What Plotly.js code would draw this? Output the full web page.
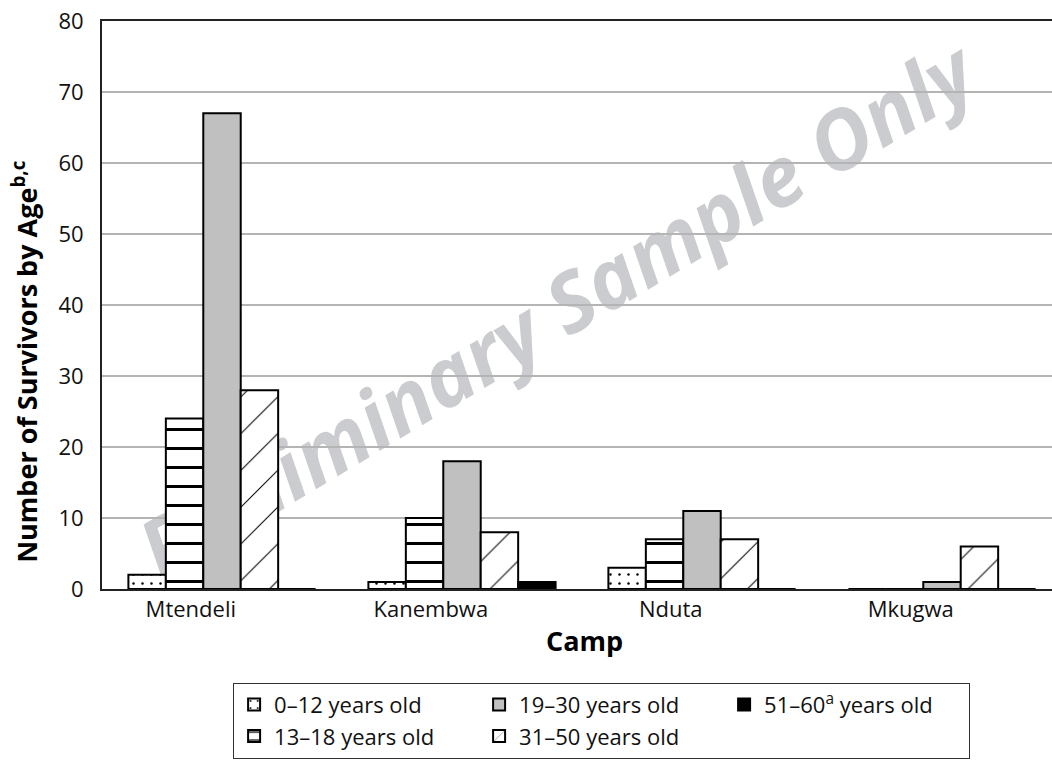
<!DOCTYPE html>
<html><head><meta charset="utf-8">
<script src="https://cdn.plot.ly/plotly-3.0.1.min.js"></script>
<style>html,body{margin:0;padding:0;background:#fff}</style>
</head><body><div id="chart" style="width:1052px;height:772px"></div>
<script>
const camps = ['Mtendeli', 'Kanembwa', 'Nduta', 'Mkugwa'];
const seriesNames = ['0–12 years old', '13–18 years old', '19–30 years old', '31–50 years old', '51–60<sup>a</sup> years old'];
const age0to12 = [2, 1, 3, 0];
const age13to18 = [24, 10, 7, 0];
const age19to30 = [67, 18, 11, 1];
const age31to50 = [28, 8, 7, 6];
const age51to60 = [0, 1, 0, 0];
const yTickVals = [0, 10, 20, 30, 40, 50, 60, 70, 80];
const yTitle = 'Number of Survivors by Age<sup>b,c</sup>';
const xTitle = 'Camp';
const watermark = 'Preliminary Sample Only';

const seriesValues = [age0to12, age13to18, age19to30, age31to50, age51to60];
const legendRanks = [1, 4, 2, 5, 3];
const patterns = [
  {shape: '.', size: 9, solidity: 0.06, fgcolor: '#000', bgcolor: '#fff', fillmode: 'replace'},
  {shape: '-', size: 19, solidity: 0.16, fgcolor: '#000', bgcolor: '#fff', fillmode: 'replace'},
  {shape: '', fgcolor: '#000', bgcolor: '#c0c0c0'},
  {shape: '/', size: 26, solidity: 0.04, fgcolor: '#000', bgcolor: '#fff', fillmode: 'replace'},
  {shape: ''}
];
const fills = ['#fff', '#fff', '#c0c0c0', '#fff', '#000'];
const xIdx = camps.map((c, i) => i);
const labelOffset = -0.13;

const traces = seriesNames.map((name, s) => ({
  type: 'bar',
  name: name,
  x: xIdx,
  y: seriesValues[s],
  legendrank: legendRanks[s],
  marker: {
    color: fills[s],
    line: {color: '#000', width: 2},
    pattern: patterns[s]
  },
  hoverinfo: 'x+y+name'
}));

const font = 'Open Sans, Noto Sans, Liberation Sans, sans-serif';
const layout = {
  width: 1052, height: 772,
  margin: {l: 102, r: 0, t: 21, b: 183},
  paper_bgcolor: '#fff', plot_bgcolor: '#fff',
  font: {family: font, size: 22, color: '#111'},
  barmode: 'group', bargap: 0.22, bargroupgap: 0,
  showlegend: true,
  legend: {
    orientation: 'h', x: 0.138, xanchor: 'left', y: -0.165, yanchor: 'top',
    entrywidth: 200, entrywidthmode: 'pixels',
    bordercolor: '#333', borderwidth: 1, bgcolor: '#fff',
    font: {family: font, size: 22, color: '#111'},
    traceorder: 'normal'
  },
  xaxis: {
    range: [-0.5, -0.5 + 950 / 240],
    tickmode: 'array',
    tickvals: xIdx.map(i => i + labelOffset),
    ticktext: camps,
    ticks: '', showgrid: false, zeroline: false,
    showline: true, linecolor: '#222', linewidth: 2, mirror: true,
    tickfont: {family: font, size: 22, color: '#111'},
    fixedrange: true
  },
  yaxis: {
    range: [0, 80], tickmode: 'array', tickvals: yTickVals,
    ticks: '', ticklabelstandoff: 12,
    showgrid: true, gridcolor: '#b4b4b4', gridwidth: 1.5,
    zeroline: false, showline: true, linecolor: '#222', linewidth: 2,
    tickfont: {family: font, size: 22, color: '#111'},
    fixedrange: true
  },
  annotations: [
    {
      text: '<b>' + yTitle + '</b>', textangle: -90,
      xref: 'paper', yref: 'paper', x: -0.081, y: 0.40,
      xanchor: 'center', yanchor: 'middle', showarrow: false,
      font: {family: font, size: 27, color: '#000'}
    },
    {
      text: '<b>' + xTitle + '</b>',
      xref: 'paper', yref: 'paper', x: 0.508, y: -0.09,
      xanchor: 'center', yanchor: 'middle', showarrow: false,
      font: {family: font, size: 27, color: '#000'}
    }
  ],
  shapes: [{
    type: 'rect', xref: 'paper', yref: 'paper', layer: 'below',
    x0: 0.1, x1: 0.86, y0: 0.18, y1: 0.79,
    line: {width: 0}, fillcolor: 'rgba(0,0,0,0)',
    label: {
      text: '<b><i>' + watermark + '</i></b>',
      textangle: -31, textposition: 'middle center',
      font: {family: font, size: 82, color: '#cbcccf', weight: 800, style: 'italic'}
    }
  }]
};

Plotly.newPlot('chart', traces, layout, {displayModeBar: false});
</script>
</body></html>
